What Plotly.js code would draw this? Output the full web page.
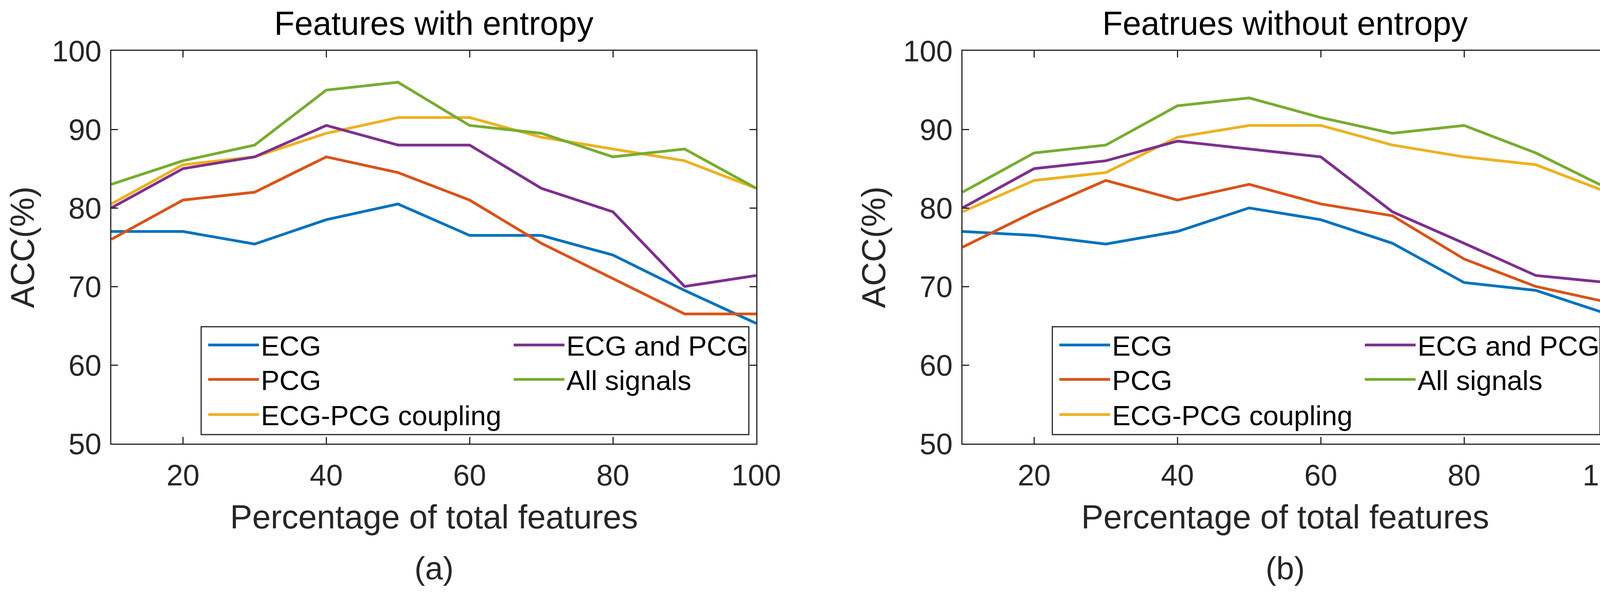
<!DOCTYPE html>
<html>
<head>
<meta charset="utf-8">
<script src="https://cdn.plot.ly/plotly-3.0.1.min.js"></script>
<style>
  html, body { margin: 0; padding: 0; background: #fff; overflow: hidden; }
  #plot { width: 4201px; height: 1525px; }
</style>
</head>
<body>
<div id="plot"></div>
<script>
// percentage of total features (x)
var pct = [10, 20, 30, 40, 50, 60, 70, 80, 90, 100];

// (a) features with entropy
var ecgA      = [77, 77, 75.4, 78.5, 80.5, 76.5, 76.5, 74, 69.5, 65.3];
var pcgA      = [76, 81, 82, 86.5, 84.5, 81, 75.5, 71, 66.5, 66.5];
var couplingA = [80.5, 85.5, 86.5, 89.5, 91.5, 91.5, 89, 87.5, 86, 82.5];
var bothA     = [80, 85, 86.5, 90.5, 88, 88, 82.5, 79.5, 70, 71.4];
var allA      = [83, 86, 88, 95, 96, 90.5, 89.5, 86.5, 87.5, 82.5];

// (b) features without entropy
var ecgB      = [77, 76.5, 75.4, 77, 80, 78.5, 75.5, 70.5, 69.5, 66.5];
var pcgB      = [75, 79.5, 83.5, 81, 83, 80.5, 79, 73.5, 70, 68];
var couplingB = [79.5, 83.5, 84.5, 89, 90.5, 90.5, 88, 86.5, 85.5, 82];
var bothB     = [80, 85, 86, 88.5, 87.5, 86.5, 79.5, 75.5, 71.4, 70.5];
var allB      = [82, 87, 88, 93, 94, 91.5, 89.5, 90.5, 87, 82.5];

var seriesNames = ['ECG', 'PCG', 'ECG-PCG coupling', 'ECG and PCG', 'All signals'];
var seriesColors = ['#0072BD', '#D95319', '#EDB120', '#7E2F8E', '#77AC30'];
var panelTitles = ['Features with entropy', 'Featrues without entropy'];
var panelTags = ['(a)', '(b)'];

var W = 4201, H = 1525;
var FONT = '"Liberation Sans", Arial, Helvetica, sans-serif';
var AXC = '#262626';

// plot boxes in pixels
var boxes = [
  {x0: 285, x1: 1936},
  {x0: 2464, x1: 4115}
];
var boxTop = 130, boxBottom = 1135;

// legend layout: column offset from box left, row tops
var legCols = [243, 1025];
var legRows = [830, 918, 1008];

function px(x) { return x / W; }
function py(y) { return 1 - y / H; }

var panels = [
  [ecgA, pcgA, couplingA, bothA, allA],
  [ecgB, pcgB, couplingB, bothB, allB]
];

function legendAt(xpx, ypx) {
  return {
    x: px(xpx), y: py(ypx),
    xanchor: 'left', yanchor: 'top',
    xref: 'paper', yref: 'paper',
    orientation: 'v',
    bgcolor: 'rgba(0,0,0,0)',
    borderwidth: 0,
    itemwidth: 130,
    font: {family: FONT, size: 71, color: '#000'}
  };
}

var layout = {showlegend: true};
var data = [];
panels.forEach(function(vals, p) {
  vals.forEach(function(v, i) {
    // one legend per entry so the two-column layout matches the figure
    var n = p * 5 + i + 1;
    var leg = n === 1 ? 'legend' : 'legend' + n;
    var col = i < 3 ? 0 : 1;
    var row = i < 3 ? i : i - 3;
    layout[leg] = legendAt(boxes[p].x0 + legCols[col], legRows[row]);
    data.push({
      x: pct,
      y: v,
      name: seriesNames[i],
      type: 'scatter',
      mode: 'lines',
      line: {color: seriesColors[i], width: 7},
      xaxis: p === 0 ? 'x' : 'x2',
      yaxis: p === 0 ? 'y' : 'y2',
      legend: leg,
      showlegend: true,
      hoverinfo: 'skip'
    });
  });
});

function xax(b) {
  return {
    domain: [px(b.x0), px(b.x1)],
    range: [10, 100],
    tickvals: [20, 40, 60, 80, 100],
    ticks: 'inside',
    ticklen: 17,
    tickwidth: 3,
    tickcolor: AXC,
    showline: true,
    linewidth: 3,
    linecolor: AXC,
    mirror: 'ticks',
    showgrid: false,
    zeroline: false,
    ticklabelstandoff: 13,
    tickfont: {family: FONT, size: 76, color: AXC}
  };
}
function yax(anchor) {
  return {
    domain: [py(boxBottom), py(boxTop)],
    range: [50, 100],
    tickvals: [50, 60, 70, 80, 90, 100],
    ticks: 'inside',
    ticklen: 17,
    tickwidth: 3,
    tickcolor: AXC,
    showline: true,
    linewidth: 3,
    linecolor: AXC,
    mirror: 'ticks',
    showgrid: false,
    zeroline: false,
    anchor: anchor,
    ticklabelstandoff: 7,
    tickfont: {family: FONT, size: 76, color: AXC}
  };
}

var annotations = [];
var shapes = [];
boxes.forEach(function(b, p) {
  var cx = px((b.x0 + b.x1) / 2);
  annotations.push({
    text: panelTitles[p], xref: 'paper', yref: 'paper',
    x: cx, y: py(60), xanchor: 'center', yanchor: 'middle',
    showarrow: false, font: {family: FONT, size: 85, color: '#000'}
  });
  annotations.push({
    text: 'Percentage of total features', xref: 'paper', yref: 'paper',
    x: cx, y: py(1322), xanchor: 'center', yanchor: 'middle',
    showarrow: false, font: {family: FONT, size: 85, color: AXC}
  });
  annotations.push({
    text: panelTags[p], xref: 'paper', yref: 'paper',
    x: cx, y: py(1453), xanchor: 'center', yanchor: 'middle',
    showarrow: false, font: {family: FONT, size: 82, color: AXC}
  });
  annotations.push({
    text: 'ACC(%)', xref: 'paper', yref: 'paper', textangle: -90,
    x: px(b.x0 - 228), y: py((boxTop + boxBottom) / 2),
    xanchor: 'center', yanchor: 'middle',
    showarrow: false, font: {family: FONT, size: 85, color: AXC}
  });
  // legend box
  shapes.push({
    type: 'rect', xref: 'paper', yref: 'paper', layer: 'above',
    x0: px(b.x0 + 230), x1: px(b.x0 + 1632),
    y0: py(1112), y1: py(836),
    line: {color: AXC, width: 3}, fillcolor: '#fff'
  });
});

layout.width = W;
layout.height = H;
layout.margin = {l: 0, r: 0, t: 0, b: 0};
layout.paper_bgcolor = '#fff';
layout.plot_bgcolor = '#fff';
layout.font = {family: FONT};
layout.xaxis = xax(boxes[0]);
layout.yaxis = yax('x');
layout.xaxis2 = xax(boxes[1]);
layout.yaxis2 = yax('x2');
layout.annotations = annotations;
layout.shapes = shapes;
layout.hovermode = false;

Plotly.newPlot('plot', data, layout, {staticPlot: true, displayModeBar: false});
</script>
</body>
</html>
